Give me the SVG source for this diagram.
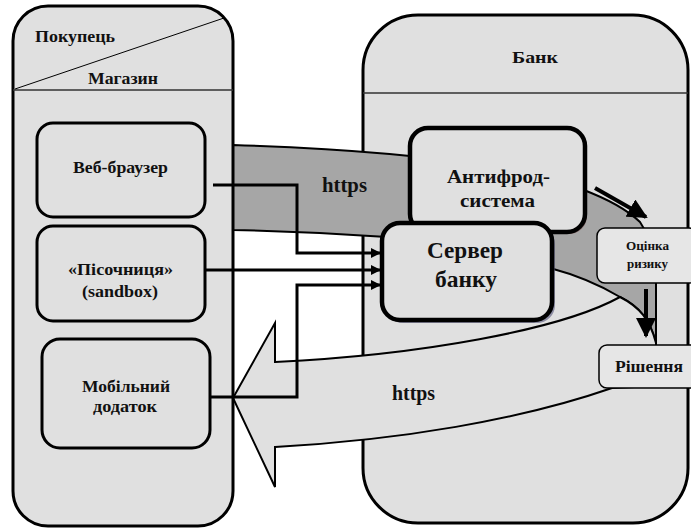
<svg xmlns="http://www.w3.org/2000/svg" width="691" height="529" viewBox="0 0 691 529">
  <defs>
    <marker id="ah" viewBox="0 0 10 10" refX="9" refY="5" markerWidth="10" markerHeight="10" markerUnits="userSpaceOnUse" orient="auto">
      <path d="M0,0 L10,5 L0,10 Z" fill="#000"/>
    </marker>
    <marker id="ahBig" viewBox="0 0 10 10" refX="9" refY="5" markerWidth="5" markerHeight="5" orient="auto">
      <path d="M0,0 L10,5 L0,10 Z" fill="#000"/>
    </marker>
  </defs>
  <style>
    text { font-family: "Liberation Serif", "DejaVu Serif", "Times New Roman", serif; font-weight: bold; fill: #111; text-anchor: middle; }
    .pool { fill: #e0e0e0; stroke: #000; stroke-width: 3; }
    .div { stroke: #333; stroke-width: 1.5; fill: none; }
    .node { fill: #e0e0e0; stroke: #000; stroke-width: 3; }
    .big { fill: #e0e0e0; stroke: #000; stroke-width: 4.5; }
    .small { fill: #e6e6e6; stroke: #000; stroke-width: 1.5; }
    .wire { fill: none; stroke: #000; stroke-width: 3; }
    .flow { stroke: #000; stroke-width: 2; }
  </style>

  <rect width="691" height="529" fill="#fff"/>

  <!-- Bank lane -->
  <g id="bank">
    <rect class="pool" x="363" y="15" width="325" height="508" rx="55"/>
    <line class="div" x1="363" y1="93" x2="688" y2="93"/>
    <text x="535" y="63" font-size="17" textLength="46" lengthAdjust="spacingAndGlyphs">Банк</text>
  </g>

  <!-- request flow band (https) -->
  <g id="flow-request">
    <path class="flow" fill="#a6a6a6" d="M233,145 C330,148 420,154 500,168 C560,178 615,198 640,222 C652,240 656,260 656,283 L656,343 C650,320 640,307 620,297 C600,285 580,276 550,268 C490,252 430,240 387,237 C330,233 280,231 233,230 Z"/>
    <text x="344.5" y="192" font-size="20" textLength="45" lengthAdjust="spacingAndGlyphs">https</text>
  </g>

  <!-- response flow arrow (https) -->
  <g id="flow-response">
    <path class="flow" fill="#e0e0e0" d="M275,362 C420,355 560,330 620,297 C640,307 650,320 656,343 L656,386 L612,388 C520,420 400,440 275,447 L275,487 L233,398 L275,323 Z"/>
    <text x="413.5" y="400" font-size="20" textLength="43" lengthAdjust="spacingAndGlyphs">https</text>
  </g>

  <!-- Customer / Shop lane -->
  <g id="customer">
    <rect class="pool" x="13" y="6" width="220" height="520" rx="35"/>
    <line class="div" x1="13" y1="90" x2="233" y2="90"/>
    <line x1="15" y1="89" x2="224" y2="18" stroke="#000" stroke-width="1"/>
    <text x="75" y="42" font-size="16" textLength="80" lengthAdjust="spacingAndGlyphs">Покупець</text>
    <text x="123" y="84" font-size="16" textLength="70" lengthAdjust="spacingAndGlyphs">Магазин</text>
  </g>

  <g id="browser">
    <rect class="node" x="37" y="123" width="168" height="94" rx="16"/>
    <text x="120.5" y="173" font-size="16" textLength="95" lengthAdjust="spacingAndGlyphs">Веб-браузер</text>
  </g>

  <g id="sandbox">
    <rect class="node" x="37" y="226" width="168" height="95" rx="16"/>
    <text x="120.5" y="275" font-size="16" textLength="105" lengthAdjust="spacingAndGlyphs">«Пісочниця»</text>
    <text x="120" y="297" font-size="16" textLength="76" lengthAdjust="spacingAndGlyphs">(sandbox)</text>
  </g>

  <g id="mobile">
    <rect class="node" x="42" y="339" width="168" height="109" rx="18"/>
    <text x="126" y="392" font-size="16" textLength="88" lengthAdjust="spacingAndGlyphs">Мобільний</text>
    <text x="125" y="412" font-size="16" textLength="64" lengthAdjust="spacingAndGlyphs">додаток</text>
  </g>

  <!-- connectors into the bank server -->
  <g id="connectors">
    <polyline class="wire" points="213,185 297,185 297,253 380,253" marker-end="url(#ah)"/>
    <polyline class="wire" points="205,270 380,270" marker-end="url(#ah)"/>
    <polyline class="wire" points="210,397 297,397 297,285 380,285" marker-end="url(#ah)"/>
    <line x1="595" y1="188" x2="646" y2="217" stroke="#000" stroke-width="4" marker-end="url(#ahBig)"/>
    <line x1="646" y1="289" x2="646" y2="336" stroke="#000" stroke-width="4" marker-end="url(#ahBig)"/>
  </g>

  <g id="antifraud">
    <rect x="412" y="130" width="175" height="104" rx="18" fill="#7a4a4a" opacity="0.6"/>
    <rect class="big" x="410" y="128" width="175" height="104" rx="18"/>
    <text x="498.5" y="183" font-size="19" textLength="103" lengthAdjust="spacingAndGlyphs">Антифрод-</text>
    <text x="497.5" y="207" font-size="19" textLength="75" lengthAdjust="spacingAndGlyphs">система</text>
  </g>

  <g id="server">
    <rect x="385" y="226" width="170" height="97" rx="18" fill="#55557a" opacity="0.6"/>
    <rect class="big" x="382" y="223" width="170" height="97" rx="18"/>
    <text x="465" y="258" font-size="24" textLength="76" lengthAdjust="spacingAndGlyphs">Сервер</text>
    <text x="466" y="287" font-size="24" textLength="62" lengthAdjust="spacingAndGlyphs">банку</text>
  </g>

  <g id="risk">
    <rect class="small" x="597" y="228" width="100" height="55" rx="8"/>
    <text x="647.5" y="250" font-size="12.5" textLength="43" lengthAdjust="spacingAndGlyphs">Оцінка</text>
    <text x="647.5" y="268" font-size="12.5" textLength="41" lengthAdjust="spacingAndGlyphs">ризику</text>
  </g>

  <g id="decision">
    <rect class="small" x="599" y="345" width="100" height="43" rx="8"/>
    <text x="649" y="372" font-size="16" textLength="68" lengthAdjust="spacingAndGlyphs">Рішення</text>
  </g>
</svg>
